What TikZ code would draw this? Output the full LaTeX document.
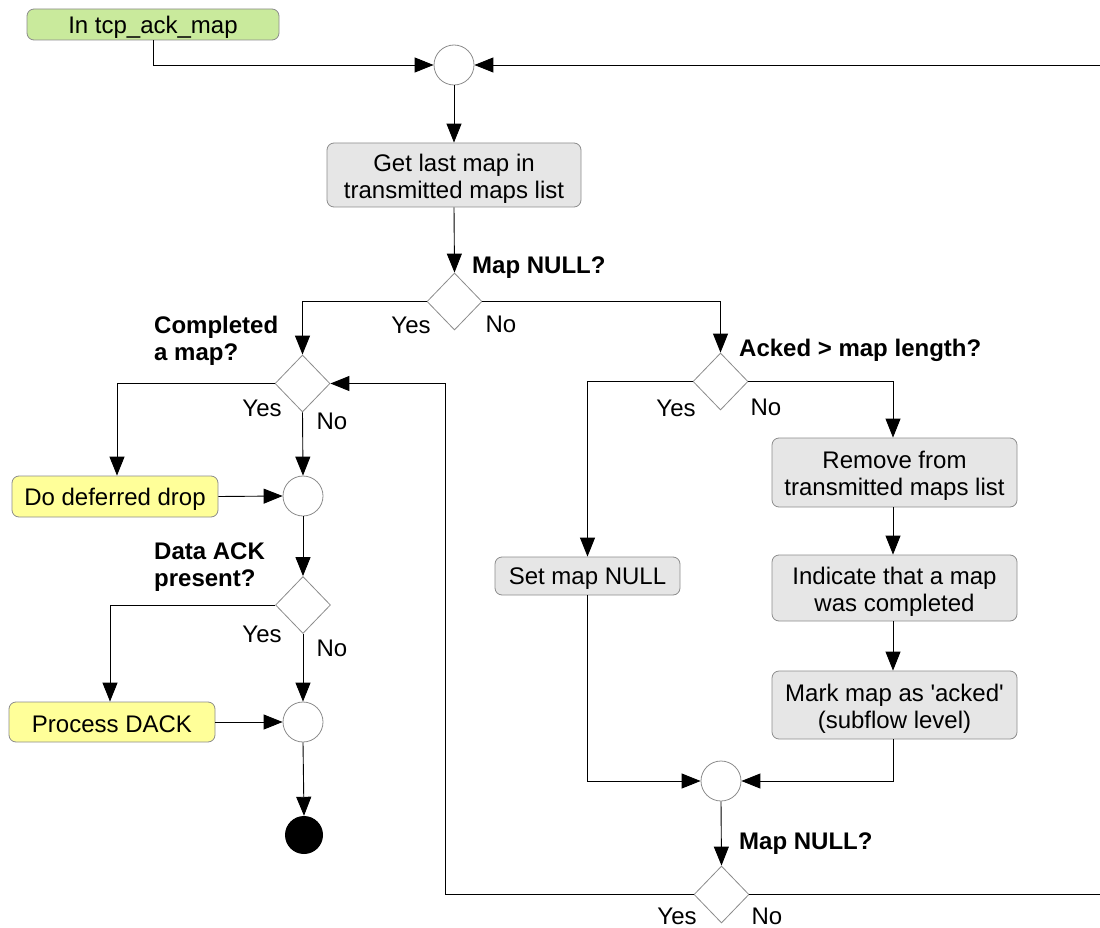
\documentclass[tikz,border=0pt]{standalone}
\usepackage{fontspec}
\setmainfont{Liberation Sans}
\usetikzlibrary{shapes.geometric,arrows.meta}
\definecolor{boxline}{HTML}{8C8C8C}
\definecolor{boxgray}{HTML}{E6E6E6}
\definecolor{startgreen}{HTML}{C9EA9C}
\definecolor{noteyellow}{HTML}{FFFF99}
% first-line strut that lowers two-line box texts
\newcommand{\toplift}{\rule{0pt}{24pt}}
\begin{document}
\begin{tikzpicture}[x=1pt,y=-1pt,
  font=\fontsize{24}{27}\selectfont,
  box/.style={rectangle, rounded corners=7pt, draw=boxline, fill=boxgray,
    line width=0.8pt, align=center, inner sep=0pt},
  onebox/.style={box, execute at begin node={\rule{0pt}{22pt}}},
  startbox/.style={onebox, fill=startgreen},
  yellowbox/.style={onebox, fill=noteyellow},
  decision/.style={diamond, draw=boxline, fill=white, line width=0.8pt,
    minimum width=55pt, minimum height=57pt, inner sep=0pt},
  merge/.style={circle, draw=boxline, fill=white, line width=0.8pt,
    minimum size=40pt, inner sep=0pt},
  final/.style={circle, fill=black, minimum size=38pt, inner sep=0pt},
  flow/.style={draw=black, line width=0.9pt, -{Triangle[length=19pt,width=15pt]}},
  plain/.style={draw=black, line width=0.9pt},
  cond/.style={font=\fontsize{24}{27}\selectfont\bfseries, align=left, anchor=west, inner sep=0pt},
  answer/.style={inner sep=0pt}
]
\useasboundingbox (0,0) rectangle (1100,928);

% nodes
\node[startbox, minimum width=252pt, minimum height=31pt] (start) at (153,24.5) {In tcp\_ack\_map};
\node[merge] (c1) at (454,65) {};
\node[box, minimum width=254pt, minimum height=64pt] (get) at (454,175) {\toplift Get last map in\\transmitted maps list};
\node[decision] (d1) at (454.5,301.5) {};
\node[decision] (d2) at (302.5,383.5) {};
\node[decision] (d3) at (720.5,381.5) {};
\node[yellowbox, minimum width=206pt, minimum height=41pt] (defer) at (115,496.5) {Do deferred drop};
\node[merge] (c2) at (303,496) {};
\node[decision] (d4) at (303,605) {};
\node[yellowbox, minimum width=206pt, minimum height=40pt] (dack) at (112,722) {Process DACK};
\node[merge] (c3) at (303,722) {};
\node[final] (endc) at (304,835) {};
\node[onebox, minimum width=185pt, minimum height=38pt] (setnull) at (587.5,576) {Set map NULL};
\node[box, minimum width=245pt, minimum height=69pt] (remove) at (894.5,472.5) {\toplift Remove from\\transmitted maps list};
\node[box, minimum width=245pt, minimum height=66pt] (indicate) at (894.5,588) {\toplift Indicate that a map\\was completed};
\node[box, minimum width=245pt, minimum height=68pt] (mark) at (894.5,705) {\toplift Mark map as \textquotesingle acked\textquotesingle\\(subflow level)};
\node[merge] (c4) at (721,781) {};
\node[decision] (d5) at (721.5,894.5) {};
\coordinate (topright) at (1100,65);
\coordinate (botright) at (1100,894.5);

% condition labels
\node[cond] (l1) at (472,268) {Map NULL?};
\node[cond] (l2) at (154,340.5) {Completed\\a map?};
\node[cond] (l3) at (739,350) {Acked > map length?};
\node[cond] (l4) at (154,567) {Data ACK\\present?};
\node[cond] (l5) at (739,844) {Map NULL?};

% branch labels
\node[answer] (y1) at (411,325) {Yes};
\node[answer] (n1) at (501,324) {No};
\node[answer] (y2) at (262,408) {Yes};
\node[answer] (n2) at (332,421) {No};
\node[answer] (y3) at (676,408) {Yes};
\node[answer] (n3) at (766,407) {No};
\node[answer] (y4) at (262,634) {Yes};
\node[answer] (n4) at (332,648) {No};
\node[answer] (y5) at (677,916) {Yes};
\node[answer] (n5) at (767,916) {No};

% connectors
\draw[flow] (start.south) |- (c1.west);
\draw[flow] (topright) -- (c1.east);
\draw[flow] (c1.south) -- (get.north);
\draw[flow] (get.south) -- (d1.north);
\draw[flow] (d1.west) -| (d2.north);
\draw[flow] (d1.east) -| (d3.north);
\draw[flow] (d2.west) -| ([xshift=2pt]defer.north);
\draw[flow] (d2.south) -- (c2.north);
\draw[flow] (defer.east) -- (c2.west);
\draw[flow] (c2.south) -- (d4.north);
\draw[flow] (d4.west) -| ([xshift=-2pt]dack.north);
\draw[flow] (d4.south) -- (c3.north);
\draw[flow] (dack.east) -- (c3.west);
\draw[flow] (c3.south) -- (endc.north);
\draw[flow] (d3.west) -| (setnull.north);
\draw[flow] (d3.east) -| ([xshift=-1.5pt]remove.north);
\draw[flow] ([xshift=-1.5pt]remove.south) -- ([xshift=-1.5pt]indicate.north);
\draw[flow] ([xshift=-1.5pt]indicate.south) -- ([xshift=-1.5pt]mark.north);
\draw[flow] (setnull.south) |- (c4.west);
\draw[flow] ([xshift=-1.5pt]mark.south) |- (c4.east);
\draw[flow] (c4.south) -- (d5.north);
\draw[flow] (d5.west) -| ([xshift=115pt]d2.east) -- (d2.east);
\draw[plain] (d5.east) -- (botright);
\end{tikzpicture}
\end{document}
